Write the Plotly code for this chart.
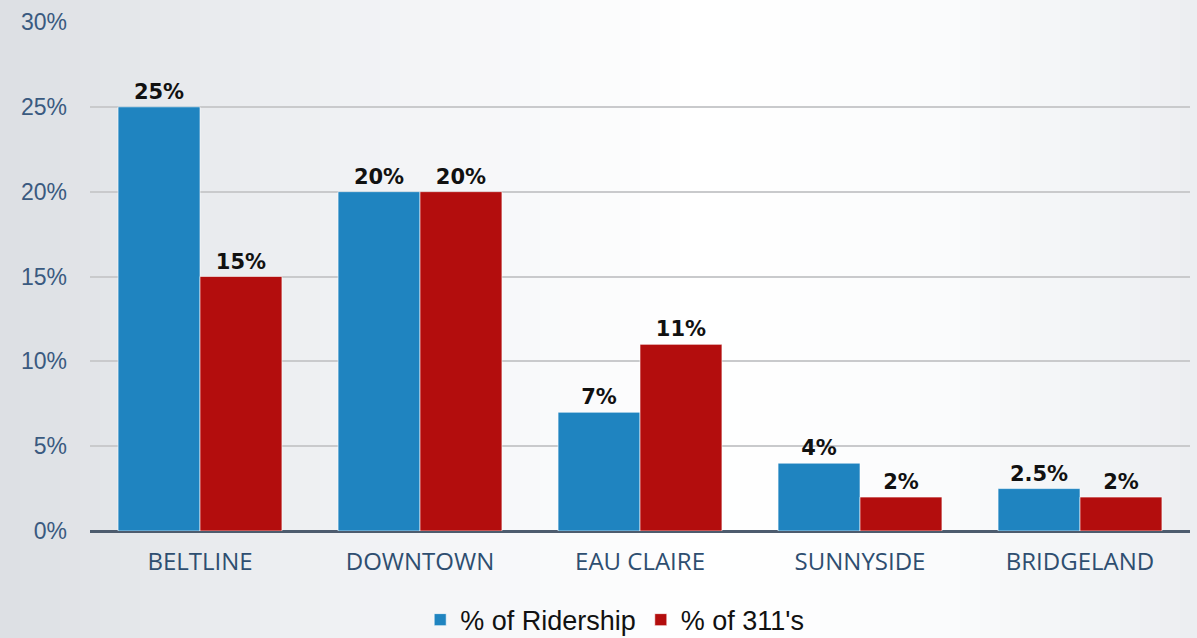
import plotly.graph_objects as go

# Ridership vs 311 share by community
categories = ["BELTLINE", "DOWNTOWN", "EAU CLAIRE", "SUNNYSIDE", "BRIDGELAND"]
ridership = [25, 20, 7, 4, 2.5]
calls_311 = [15, 20, 11, 2, 2]
y_ticks = [0, 5, 10, 15, 20, 25, 30]
y_tick_labels = [f"{v}%" for v in y_ticks]

BLUE = "#1f84c0"
RED = "#b30d0d"

W, H = 1197, 638
ML, MR, MT, MB = 90, 7, 22, 107
PW, PH = W - ML - MR, H - MT - MB

fig = go.Figure()
label_font = dict(family="DejaVu Sans", size=21, color="#111111")

fig.add_trace(go.Bar(
    x=categories, y=ridership, name="% of Ridership",
    marker=dict(color=BLUE, line=dict(color="rgba(255,255,255,0.6)", width=1)),
    text=[f"<b>{v:g}%</b>" for v in ridership], textposition="outside",
    textfont=label_font, cliponaxis=False,
))
fig.add_trace(go.Bar(
    x=categories, y=calls_311, name="% of 311's",
    marker=dict(color=RED, line=dict(color="rgba(255,255,255,0.6)", width=1)),
    text=[f"<b>{v:g}%</b>" for v in calls_311], textposition="outside",
    textfont=label_font, cliponaxis=False,
))

# soft grey-to-white horizontal background shading
def lerp(a, b, t):
    return tuple(round(a[i] + (b[i] - a[i]) * t) for i in range(3))

stops = [(0, (220, 223, 227)), (200, (233, 235, 238)), (450, (245, 246, 248)),
         (700, (255, 255, 255)), (950, (250, 251, 252)), (1197, (236, 238, 241))]
shapes = []
step = 20
for px in range(0, W, step):
    cx = px + step / 2
    for (x0, c0), (x1, c1) in zip(stops[:-1], stops[1:]):
        if x0 <= cx <= x1:
            col = lerp(c0, c1, (cx - x0) / (x1 - x0))
            break
    shapes.append(dict(
        type="rect", xref="paper", yref="paper", layer="below",
        x0=(px - ML) / PW, x1=(px + step + 1 - ML) / PW,
        y0=-MB / PH - 0.01, y1=1 + MT / PH + 0.01,
        fillcolor=f"rgb{col}", line=dict(width=0),
    ))

fig.update_layout(
    width=W, height=H,
    margin=dict(l=ML, r=MR, t=MT, b=MB, autoexpand=False),
    paper_bgcolor="#eceef1",
    plot_bgcolor="rgba(0,0,0,0)",
    barmode="group", bargap=0.255, bargroupgap=0,
    shapes=shapes,
    showlegend=True,
    legend=dict(orientation="h", x=0.477, xanchor="center", y=-0.175, yanchor="middle",
                font=dict(family="Liberation Sans, Arial", size=27, color="#111111"),
                itemwidth=30, traceorder="normal", bgcolor="rgba(0,0,0,0)"),
    xaxis=dict(
        tickfont=dict(family="Open Sans", size=24, color="#2e4e70"),
        showgrid=False, showline=False, ticks="", ticklabelstandoff=14,
        automargin=False,
    ),
    yaxis=dict(
        range=[0, 30], tickvals=y_ticks, ticktext=y_tick_labels,
        tickfont=dict(family="Liberation Sans, Arial", size=23, color="#3a5a80"),
        showgrid=True, gridcolor="#c9cacc", gridwidth=2,
        zeroline=True, zerolinecolor="#4d5c6e", zerolinewidth=3,
        showline=False, ticks="", ticklabelstandoff=22, automargin=False,
    ),
)

fig.write_html("out.html")
